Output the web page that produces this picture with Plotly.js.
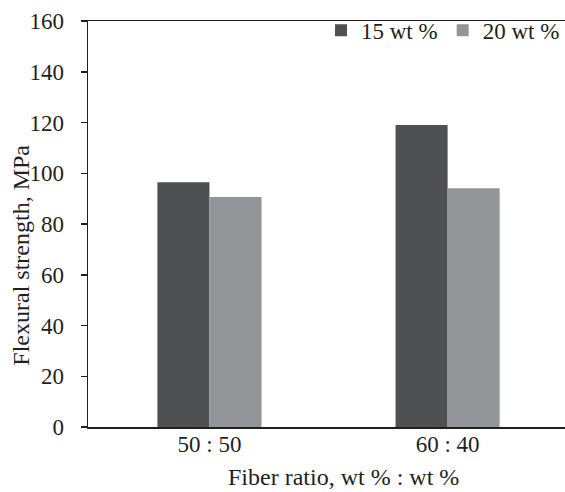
<!DOCTYPE html>
<html>
<head>
<meta charset="utf-8">
<script src="https://cdn.plot.ly/plotly-3.0.1.min.js"></script>
<style>html,body{margin:0;padding:0;background:#fff;}#chart{width:565px;height:492px;}</style>
</head>
<body>
<div id="chart"></div>
<script>
const categories = ["50 : 50", "60 : 40"];
const seriesNames = ["15 wt %", "20 wt %"];
const values15 = [96.5, 119.0];
const values20 = [90.6, 94.1];
const yTicks = [0, 20, 40, 60, 80, 100, 120, 140, 160];

const FONT = "'Liberation Serif', 'Times New Roman', serif";
const traces = [
  {type: "bar", name: seriesNames[0], x: categories, y: values15,
   marker: {color: "#4f5052", line: {width: 0}}},
  {type: "bar", name: seriesNames[1], x: categories, y: values20,
   marker: {color: "#939497", line: {width: 0}}}
];

const layout = {
  width: 565, height: 492,
  margin: {l: 88, r: 0, t: 21, b: 65},
  paper_bgcolor: "#fff", plot_bgcolor: "#fff",
  font: {family: FONT, size: 23, color: "#231f20"},
  barmode: "group", bargap: 0.563, bargroupgap: 0,
  showlegend: true,
  legend: {orientation: "h", x: 1.0, xanchor: "right", y: 1.03, yanchor: "top",
           font: {family: FONT, size: 23, color: "#231f20"}, bgcolor: "rgba(0,0,0,0)",
           traceorder: "normal", itemwidth: 30},
  xaxis: {type: "category", range: [-0.51, 1.493], showline: true, linecolor: "#231f20",
          linewidth: 1.5, mirror: true, ticks: "", showgrid: false, zeroline: false,
          tickfont: {family: FONT, size: 23}, ticklabelstandoff: -4},
  yaxis: {range: [0, 160], tickvals: yTicks, showline: true, linecolor: "#231f20",
          linewidth: 1.5, ticks: "outside", ticklen: 6, tickwidth: 1.5, tickcolor: "#231f20",
          showgrid: false, zeroline: false, tickfont: {family: FONT, size: 23},
          ticklabelstandoff: 12},
  annotations: [
    {text: "Fiber ratio, wt % : wt %", xref: "paper", yref: "paper", x: 0.536, y: 0, yshift: -50,
     xanchor: "center", yanchor: "middle", showarrow: false, font: {family: FONT, size: 24}},
    {text: "Flexural strength, MPa", xref: "paper", yref: "paper", x: 0, xshift: -67, y: 0.422,
     xanchor: "center", yanchor: "middle", textangle: -90, showarrow: false, font: {family: FONT, size: 24}}
  ]
};

Plotly.newPlot("chart", traces, layout, {staticPlot: true, displayModeBar: false});
</script>
</body>
</html>
